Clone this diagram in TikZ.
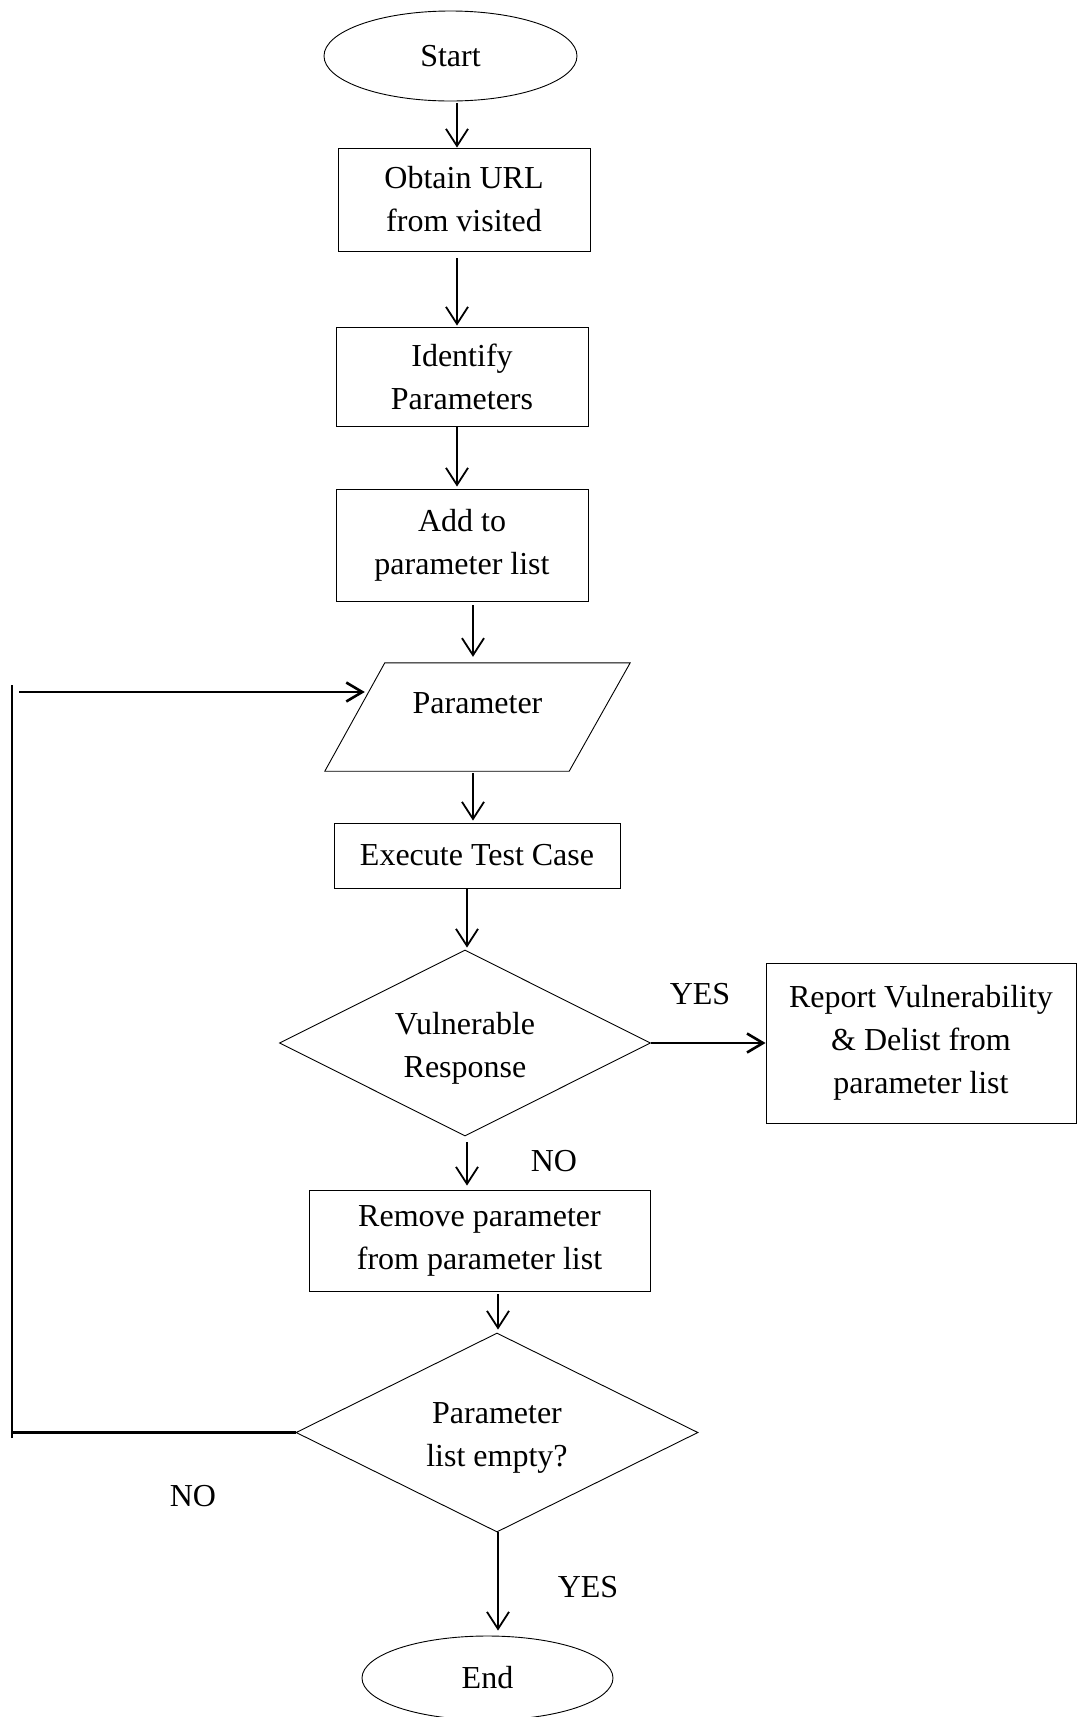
\documentclass[tikz,border=0pt]{standalone}
\usepackage{fontspec}
\setmainfont{Liberation Serif}
\usetikzlibrary{arrows.meta,shapes.geometric}
\begin{document}
\begin{tikzpicture}[x=1pt,y=-1pt,
  every node/.style={font=\fontsize{32}{43}\selectfont, align=center, inner sep=0pt},
  procbox/.style={draw, line width=0.9pt, rectangle},
  term/.style={draw, line width=0.9pt, ellipse},
  decide/.style={draw, line width=0.9pt, diamond, aspect=2},
  inputbox/.style={rectangle},
  outline/.style={draw, line width=0.9pt},
  flow/.style={line width=1.8pt, -{Straight Barb[length=17pt,width=22pt]}},
  flowthick/.style={line width=2.6pt, -{Straight Barb[length=16pt,width=19pt]}},
  loopline/.style={line width=2.4pt},
  loopside/.style={line width=1.5pt}
]
\useasboundingbox (0,0) rectangle (1077,1717);

% nodes
\node[term, minimum width=253, minimum height=90] (start) at (450.5,56) {Start};
\node[procbox, minimum width=252, minimum height=103] (obtain) at (464,199.5) {Obtain URL\\from visited};
\node[procbox, minimum width=252, minimum height=99] (identify) at (462,376.5) {Identify\\Parameters};
\node[procbox, minimum width=252, minimum height=112] (add) at (462,545) {Add to\\parameter list};
\node[inputbox, minimum width=305, minimum height=108,
      label={[name=partext, yshift=14pt]center:Parameter}] (par) at (477.5,717) {};
\draw[outline] ([xshift=60pt]par.north west) -- (par.north east)
  -- ([xshift=-61pt]par.south east) -- (par.south west) -- cycle;
\node[procbox, minimum width=286, minimum height=65] (exec) at (477,855.5) {Execute Test Case};
\node[decide, minimum width=371, minimum height=186,
      label={[name=d1text, yshift=-5pt]center:Vulnerable\\Response}] (d1) at (465,1043) {};
\node[procbox, minimum width=310, minimum height=160] (report) at (921,1043) {Report Vulnerability\\\& Delist from\\parameter list};
\node[procbox, minimum width=341, minimum height=101] (remove) at (479.5,1240.5) {Remove parameter\\from parameter list};
\node[decide, minimum width=402, minimum height=199,
      label={[name=d2text, yshift=-5pt]center:Parameter\\list empty?}] (d2) at (497,1432.5) {};
\node[term, minimum width=251, minimum height=84] (end) at (487.5,1678) {End};

% labels
\node (yes1) at (700,994) {YES};
\node (no1) at (554,1161) {NO};
\node (no2) at (193,1496) {NO};
\node (yes2) at (588,1587) {YES};

% connector columns
\coordinate (cA) at (457,0);
\coordinate (cB) at (473,0);
\coordinate (cC) at (467,0);
\coordinate (cD) at (498,0);

\draw[flow, shorten <=2pt] (start.south -| cA) -- (obtain.north -| cA);
\draw[flow, shorten <=7pt, shorten >=1pt] (obtain.south -| cA) -- (identify.north -| cA);
\draw[flow, shorten >=2pt] (identify.south -| cA) -- (add.north -| cA);
\draw[flow, shorten <=4pt, shorten >=6pt] (add.south -| cB) -- (par.north -| cB);
\draw[flow, shorten <=2pt, shorten >=2pt] (par.south -| cB) -- (exec.north -| cB);
\draw[flow, shorten >=2pt] (exec.south -| cC) -- (d1.north -| cC);
\draw[flow, shorten <=6pt, shorten >=4pt] (d1.south -| cC) -- (remove.north -| cC);
\draw[flow, shorten <=3pt, shorten >=3pt] (remove.south -| cD) -- (d2.north -| cD);
\draw[flow, shorten >=5pt] (d2.south -| cD) -- (end.north -| cD);
\draw[flowthick] (d1.east) -- (report.west);

% loop back
\coordinate (loopB) at (12,1438);
\coordinate (loopT) at (12,685);
\coordinate (loopA) at (19,692);
\draw[loopline] (d2.west) -- (d2.west -| loopB);
\draw[loopside] (loopB) -- (loopT);
\draw[flowthick, shorten >=-40pt] (loopA) -- (loopA -| par.west);
\end{tikzpicture}
\end{document}
